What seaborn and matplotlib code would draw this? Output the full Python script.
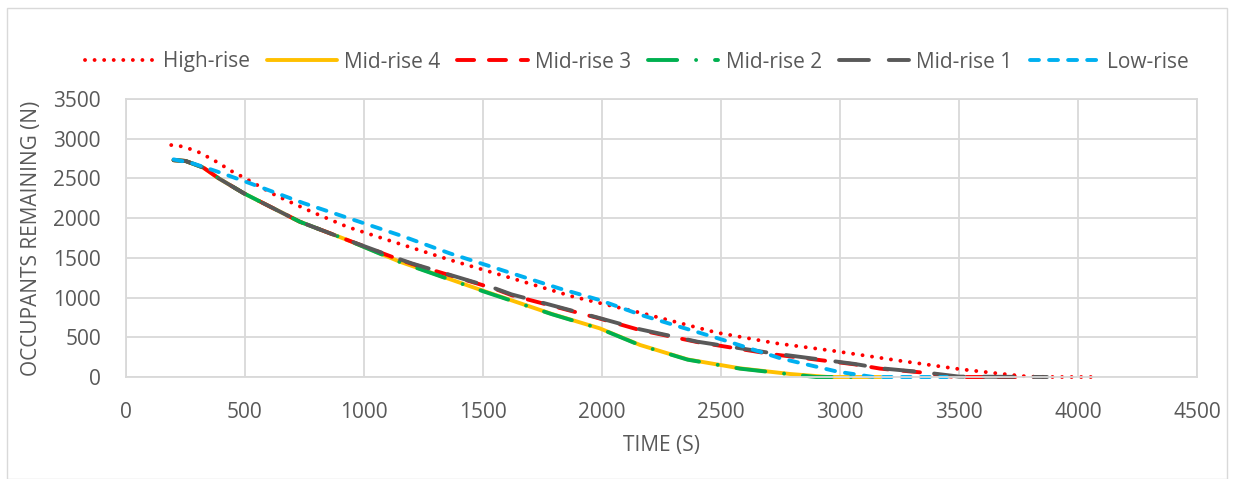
import matplotlib
matplotlib.use("Agg")
import matplotlib.pyplot as plt
import seaborn as sns
import pandas as pd
from matplotlib.patches import Rectangle

# ---- data ----
high_t = [190, 230, 270, 310, 380, 450, 490, 630, 780, 930, 1120, 1360, 1600, 1880, 2160, 2480, 2730, 2970, 3250, 3500, 3660, 3790, 3900, 4090]
high_n = [2920, 2905, 2870, 2825, 2710, 2580, 2520, 2285, 2080, 1890, 1705, 1475, 1262, 1010, 810, 560, 425, 330, 205, 100, 46, 5, 0, 0]

mid4_t = [200, 250, 325, 390, 495, 730, 930, 1150, 1500, 1790, 1990, 2160, 2360, 2580, 2790, 2950, 3170]
mid4_n = [2730, 2720, 2636, 2500, 2313, 1955, 1725, 1452, 1086, 793, 613, 403, 221, 109, 38, 0, 0]

mid3_t = [200, 250, 325, 390, 495, 730, 930, 1120, 1200, 1550, 1620, 1980, 2160, 2400, 2720, 3060, 3170, 3350, 3480, 3760]
mid3_n = [2730, 2720, 2636, 2500, 2313, 1955, 1725, 1510, 1425, 1110, 1030, 745, 590, 440, 285, 160, 105, 55, 0, 0]

mid2_t = [200, 250, 325, 390, 495, 730, 930, 1150, 1500, 1790, 1990, 2160, 2360, 2580, 2790, 2900, 3100]
mid2_n = [2730, 2720, 2636, 2500, 2313, 1955, 1725, 1448, 1080, 790, 610, 400, 218, 105, 35, 0, 0]

mid1_t = [200, 250, 325, 390, 495, 730, 930, 1120, 1200, 1550, 1620, 1980, 2160, 2400, 2720, 3060, 3170, 3350, 3500, 3870]
mid1_n = [2730, 2720, 2636, 2500, 2313, 1955, 1725, 1515, 1431, 1116, 1040, 750, 600, 445, 297, 165, 110, 60, 5, 0]

low_t = [200, 280, 380, 520, 745, 980, 1160, 1360, 1600, 1820, 1990, 2170, 2510, 2750, 2990, 3140, 3450]
low_n = [2740, 2690, 2590, 2440, 2190, 1955, 1775, 1557, 1326, 1116, 969, 775, 466, 235, 67, 0, 0]

series_names = ["High-rise", "Mid-rise 4", "Mid-rise 3", "Mid-rise 2", "Mid-rise 1", "Low-rise"]
series_t = [high_t, mid4_t, mid3_t, mid2_t, mid1_t, low_t]
series_n = [high_n, mid4_n, mid3_n, mid2_n, mid1_n, low_n]
colors = ["#FF0000", "#FFC000", "#FF0000", "#00B050", "#595959", "#00B0F0"]
dashes = [(0.01, 2.45), None, (4.4, 3.8), (7.5, 4.86, 0.01, 4.86), (7.7, 5.1), (2.3, 2.6)]

x_ticks = [0, 500, 1000, 1500, 2000, 2500, 3000, 3500, 4000, 4500]
y_ticks = [0, 500, 1000, 1500, 2000, 2500, 3000, 3500]

# ---- style ----
sns.set_theme(style="white")
plt.rcParams['font.family'] = ['Open Sans', 'DejaVu Sans']

fig = plt.figure(figsize=(12.34, 4.79), dpi=100)
ax = fig.add_axes([126/1234, 1-377/479, (1197-126)/1234, (377-99)/479])

lw = 2.8
for name, t, n, c, d in zip(series_names, series_t, series_n, colors, dashes):
    df = pd.DataFrame({"t": t, "n": n})
    sns.lineplot(data=df, x="t", y="n", ax=ax, color=c, label=name,
                 linewidth=lw, estimator=None, sort=False)
    line = ax.lines[-1]
    if d is not None:
        line.set_dashes(d)
    line.set_dash_capstyle("round")
    line.set_solid_capstyle("round")
    line.set_clip_on(False)

ax.set_xlim(0, 4500)
ax.set_ylim(0, 3500)
ax.set_xticks(x_ticks)
ax.set_yticks(y_ticks)
txtc = "#595959"
fs = 15
ax.tick_params(axis="both", length=0, labelsize=fs, colors=txtc)
ax.tick_params(axis="y", pad=18)
ax.tick_params(axis="x", pad=18)
ax.grid(True, color="#D9D9D9", linewidth=1.3)
ax.set_axisbelow(True)
for s in ax.spines.values():
    s.set_color("#D9D9D9")
    s.set_linewidth(1.3)

ax.set_xlabel("TIME (S)", fontsize=fs, color=txtc, labelpad=9)
ax.set_ylabel("OCCUPANTS REMAINING (N)", fontsize=fs, color=txtc, labelpad=8)

handles, labels = ax.get_legend_handles_labels()
leg = fig.legend(handles, labels, loc="center", bbox_to_anchor=(637/1234, 1-62/479),
                 ncol=6, frameon=False, fontsize=fs, handlelength=3.37,
                 handletextpad=0.35, columnspacing=0.82)
for txt in leg.get_texts():
    txt.set_color(txtc)
if ax.get_legend():
    ax.get_legend().remove()

fig.patches.append(Rectangle((7/1234, 0.0), 1220/1234, 1-8/479, transform=fig.transFigure,
                             fill=False, edgecolor="#D9D9D9", linewidth=1.0))

fig.savefig("out.png", dpi=100)
